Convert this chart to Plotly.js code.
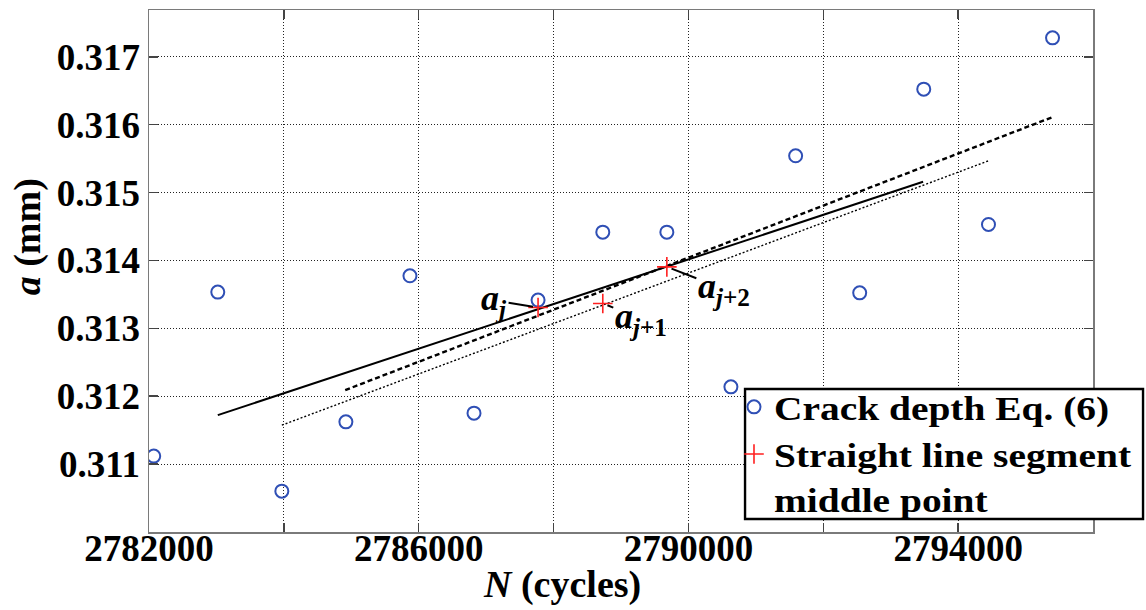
<!DOCTYPE html>
<html>
<head>
<meta charset="utf-8">
<script src="https://cdn.plot.ly/plotly-3.0.1.min.js"></script>
<style>
  html, body { margin: 0; padding: 0; background: #ffffff; }
  #chart { width: 1146px; height: 610px; }
  /* widen the legend lettering a little, anchored at its left edge */
  #chart .legendtext {
    transform-box: fill-box;
    transform-origin: left center;
    transform: scaleX(1.16);
  }
  /* the widened lettering must not be clipped by the legend box */
  #chart .legend .scrollbox { clip-path: none !important; }
</style>
</head>
<body>
<div id="chart"></div>
<script>
// Crack depth estimates, Eq. (6)
const crackN = [2782070, 2783020, 2783970, 2784920, 2785870, 2786820, 2787770, 2788730,
                2789680, 2790630, 2791590, 2792540, 2793490, 2794450, 2795400];
const crackA = [0.311118, 0.313534, 0.310602, 0.311623, 0.313774, 0.311751, 0.313416, 0.314417,
                0.314417, 0.312138, 0.315542, 0.313523, 0.316524, 0.314531, 0.317280];

// Middle points of the fitted straight line segments
const midN = [2787770, 2788730, 2789680];
const midA = [0.313308, 0.313367, 0.313906];
const midLabels = ['<b><i>a</i><sub><i>j</i></sub></b>',
                   '<b><i>a</i><sub><i>j</i>+1</sub></b>',
                   '<b><i>a</i><sub><i>j</i>+2</sub></b>'];

// Fitted straight line segments (end points)
const segSolidN = [2783020, 2793480];
const segSolidA = [0.311722, 0.315159];
const segDashN = [2784910, 2795410];
const segDashA = [0.312090, 0.316116];
const segDotN = [2783970, 2794450];
const segDotA = [0.311574, 0.315468];

// Axis ticks
const xTickVals = [2782000, 2786000, 2790000, 2794000];
const xTickText = ['2782000', '2786000', '2790000', '2794000'];
const xMinorStep = 2000;
const yTickVals = [0.311, 0.312, 0.313, 0.314, 0.315, 0.316, 0.317];
const yTickText = ['0.311', '0.312', '0.313', '0.314', '0.315', '0.316', '0.317'];

const serif = 'Liberation Serif, Times New Roman, serif';

const traces = [
  { x: segSolidN, y: segSolidA, mode: 'lines', showlegend: false, hoverinfo: 'skip',
    line: { color: '#000000', width: 2 } },
  { x: segDashN, y: segDashA, mode: 'lines', showlegend: false, hoverinfo: 'skip',
    line: { color: '#000000', width: 2.4, dash: '5px,3px' } },
  { x: segDotN, y: segDotA, mode: 'lines', showlegend: false, hoverinfo: 'skip',
    line: { color: '#000000', width: 1.4, dash: '2px,2px' } },
  { x: crackN, y: crackA, mode: 'markers', name: 'Crack depth Eq. (6)',
    marker: { symbol: 'circle-open', size: 13, color: '#2f4fb5', line: { width: 2, color: '#2f4fb5' } } },
  { x: midN, y: midA, mode: 'markers', name: 'Straight line segment<br>middle point',
    marker: { symbol: 'cross-thin', size: 14, color: '#ff2020', line: { width: 1.6, color: '#ff2020' } } }
];

// Leader offsets (pixels) of the middle point labels
const labelOffsets = [[-44, -7], [38, 15], [57, 22]];
const annotations = midN.map((n, i) => ({
  x: n, y: midA[i], xref: 'x', yref: 'y',
  text: midLabels[i],
  showarrow: true, arrowhead: 0, arrowwidth: 2, arrowcolor: '#000000',
  ax: labelOffsets[i][0], ay: labelOffsets[i][1], standoff: 5,
  font: { family: serif, size: 36, color: '#000000' }
}));

annotations.push({
  xref: 'paper', yref: 'paper', x: 0.4375, y: -0.1015,
  xanchor: 'center', yanchor: 'middle', showarrow: false,
  text: '<b><i>N</i> (cycles)</b>',
  font: { family: serif, size: 38, color: '#000000' }
});
annotations.push({
  xref: 'paper', yref: 'paper', x: -0.129, y: 0.565,
  xanchor: 'center', yanchor: 'middle', showarrow: false, textangle: -90,
  text: '<b><i>a</i> (mm)</b>',
  font: { family: serif, size: 38, color: '#000000' }
});

const axisCommon = {
  showgrid: true, gridcolor: '#222222', gridwidth: 1, griddash: '1px,2px',
  ticks: 'inside', ticklen: 9, tickwidth: 1.5, tickcolor: '#444444',
  showline: true, linecolor: '#7a7a7a', linewidth: 1.5, mirror: 'ticks', zeroline: false,
  tickfont: { family: serif, size: 37, weight: 'bold', color: '#000000' }
};

const layout = {
  width: 1146, height: 610,
  margin: { l: 149, r: 53, t: 10, b: 78, pad: 0, autoexpand: false },
  paper_bgcolor: '#ffffff', plot_bgcolor: '#ffffff',
  font: { family: serif, color: '#000000' },
  xaxis: Object.assign({}, axisCommon, {
    range: [2782000, 2796000], tickmode: 'array', tickvals: xTickVals, ticktext: xTickText,
    ticklabelstandoff: -17,
    minor: { dtick: xMinorStep, tick0: 2782000, ticks: 'inside', ticklen: 9, tickwidth: 1.5,
             tickcolor: '#444444', showgrid: true, gridcolor: '#222222', gridwidth: 1, griddash: '1px,2px' }
  }),
  yaxis: Object.assign({}, axisCommon, {
    range: [0.310, 0.31769], tickmode: 'array', tickvals: yTickVals, ticktext: yTickText
  }),
  showlegend: true,
  legend: {
    x: 0.6197, y: 0.2945, xanchor: 'left', yanchor: 'top',
    bgcolor: 'rgba(0,0,0,0)', borderwidth: 0,
    font: { family: serif, size: 34, weight: 'bold', color: '#000000' },
    itemwidth: 30, valign: 'top', tracegroupgap: 0
  },
  // legend frame
  shapes: [{
    type: 'rect', xref: 'paper', yref: 'paper', layer: 'above',
    x0: 0.6314, x1: 1.0530, y0: 0.0249, y1: 0.2739,
    fillcolor: '#ffffff', line: { color: '#000000', width: 2.4 }
  }],
  annotations: annotations
};

Plotly.newPlot('chart', traces, layout, { displayModeBar: false, staticPlot: true });
</script>
</body>
</html>
